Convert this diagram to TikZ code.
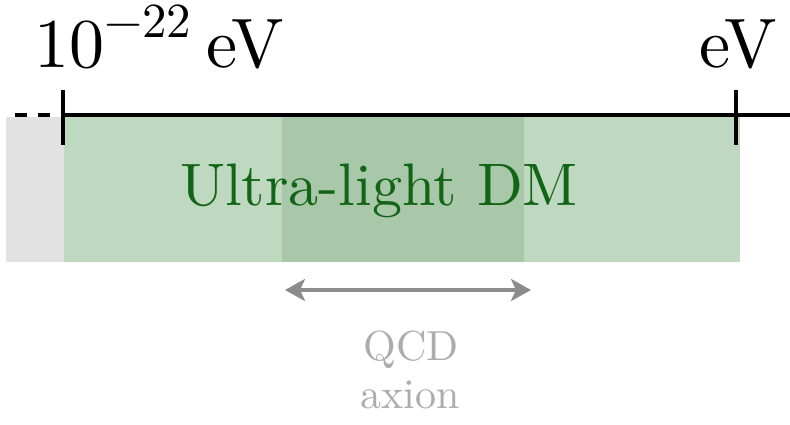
\documentclass[tikz,border=0pt]{standalone}
\usepackage{fontspec}
\setmainfont{lmroman10-regular}[Extension=.otf]
\usetikzlibrary{arrows.meta}
\definecolor{lightgreen}{RGB}{190,217,192}
\definecolor{midgreen}{RGB}{168,200,169}
\definecolor{greyband}{RGB}{226,226,226}
\definecolor{dmgreen}{RGB}{18,100,22}
\definecolor{arrowgrey}{RGB}{140,140,140}
\definecolor{textgrey}{RGB}{172,172,172}
\tikzset{
  axisline/.style={line width=3.6pt, black},
  tickline/.style={line width=3.6pt, black},
  biglabel/.style={font=\fontsize{70}{84}\selectfont, inner sep=0pt, anchor=base},
  greytext/.style={font=\fontsize{42}{45}\selectfont, text=textgrey, inner sep=0pt, anchor=base},
}
\begin{document}
\begin{tikzpicture}[x=1pt,y=-1pt]
\useasboundingbox (0,0) rectangle (790,424);
% bands
\fill[greyband] (6,117) rectangle (64,262);
\fill[lightgreen] (64,117) rectangle (740,262);
\fill[midgreen] (282,117) rectangle (524,262);
% axis
\coordinate (dstart) at (15,115);
\coordinate (tl) at (63,115);
\coordinate (tr) at (736,115);
\coordinate (aend) at (790,115);
\draw[axisline, dash pattern=on 12pt off 11pt] (dstart) -- (tl);
\draw[axisline] (tl) -- (aend);
\draw[tickline] (63,90) -- (63,145);
\draw[tickline] (736,90) -- (736,145);
% labels
\node[biglabel, anchor=base west] (lo) at (34,67) {10\raisebox{30pt}{\fontsize{49}{50}\selectfont −22}\hspace{15pt}eV};
\node[biglabel] (hi) at (738,67) {eV};
\node[font=\fontsize{60}{72}\selectfont, text=dmgreen, inner sep=0pt, anchor=base] (dm) at (379,205) {Ultra-light DM};
% QCD axion
\coordinate (al) at (285,290);
\coordinate (ar) at (531,290);
\draw[arrowgrey, line width=4pt, {Stealth[length=20pt,width=22pt,inset=5pt]}-{Stealth[length=20pt,width=22pt,inset=5pt]}] (al) -- (ar);
\node[greytext] (qcd) at (411,360) {QCD};
\node[greytext] (ax) at (410,408) {axion};
\end{tikzpicture}
\end{document}
